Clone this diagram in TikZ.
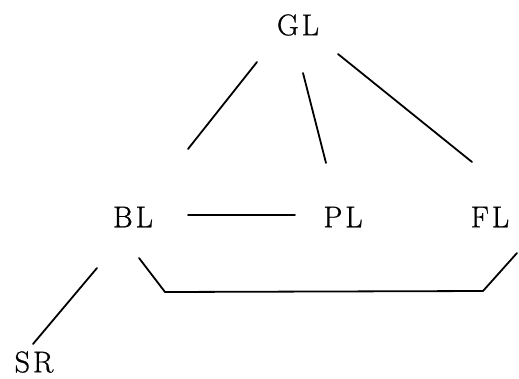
\documentclass[tikz,border=0pt]{standalone}
\usepackage{fontspec}
\setmainfont{Latin Modern Roman}[LetterSpace=10,FakeBold=0.8]
\begin{document}
\begin{tikzpicture}[x=1pt,y=-1pt,
  lbl/.style={inner sep=0pt,font=\fontsize{30}{32}\selectfont},
  link/.style={line width=1.8pt,line cap=round,line join=round}]
\useasboundingbox (0,0) rectangle (519,378);
% level labels
\node[lbl] (gl) at (298,25) {GL};
\node[lbl] (bl) at (133,217) {BL};
\node[lbl] (pl) at (343,217) {PL};
\node[lbl] (fl) at (490,217) {FL};
\node[lbl] (sr) at (34,362) {SR};
% connector end points
\coordinate (gl1) at (257,62);  \coordinate (bl1) at (188,149);
\coordinate (gl2) at (303,73);  \coordinate (pl1) at (326,163);
\coordinate (gl3) at (338,54);  \coordinate (fl1) at (472,162);
\coordinate (bl2) at (188,215); \coordinate (pl2) at (295,215);
\coordinate (bl3) at (139,258); \coordinate (fl2) at (517,253);
\coordinate (bl4) at (97,268);  \coordinate (sr1) at (33,344);
% connectors
\draw[link] (gl1) -- (bl1);
\draw[link] (gl2) -- (pl1);
\draw[link] (gl3) -- (fl1);
\draw[link] (bl2) -- (pl2);
\draw[link] (bl3) -- (165,292) -- (483,291) -- (fl2);
\draw[link] (bl4) -- (sr1);
\end{tikzpicture}
\end{document}
